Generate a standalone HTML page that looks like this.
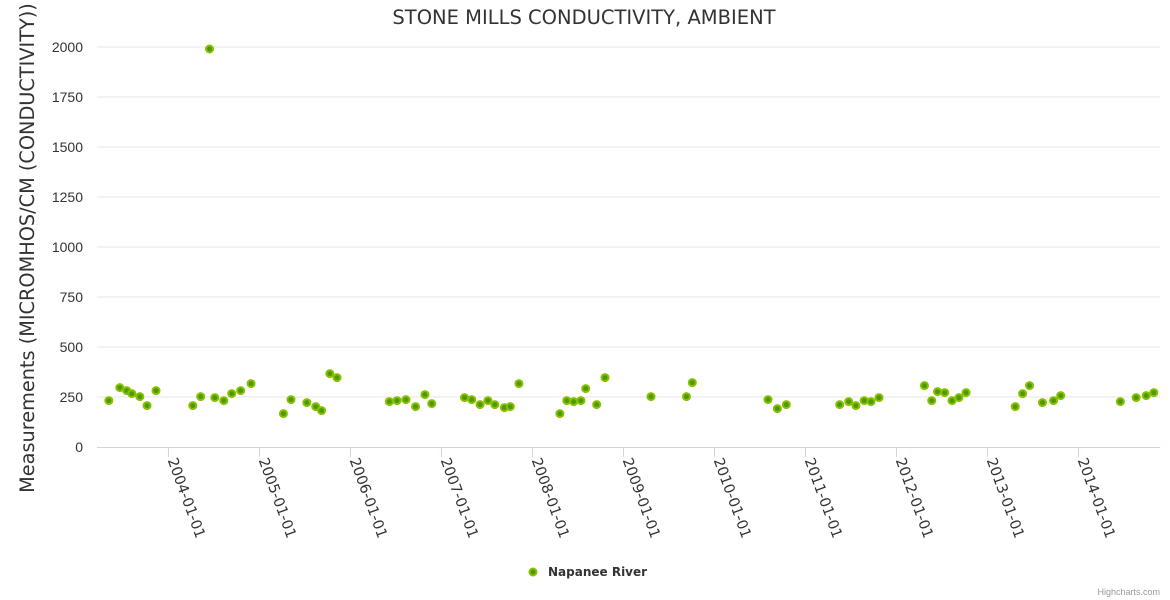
<!DOCTYPE html>
<html><head><meta charset="utf-8"><style>
body{margin:0;background:#fff;}
svg{display:block;font-family:"Liberation Sans",sans-serif;}
.dv{font-family:"DejaVu Sans",sans-serif;}
</style></head><body>
<svg id="chart" width="1170" height="600">
<rect width="1170" height="600" fill="#fff"/>
<text class="dv" x="584" y="24" text-anchor="middle" font-size="19.5" fill="#333">STONE MILLS CONDUCTIVITY, AMBIENT</text>
<text class="dv" transform="translate(34,248) rotate(-90)" text-anchor="middle" font-size="19.3" fill="#333">Measurements (MICROMHOS/CM (CONDUCTIVITY))</text>
<g id="grid"></g><g id="xaxis"></g><g id="pts"></g>
<g>
<circle cx="533" cy="572" r="3.5" fill="#4d9900" stroke="#88c000" stroke-width="2"/>
<text class="dv" x="548" y="576" font-size="12" font-weight="bold" fill="#333">Napanee River</text>
</g>
<text x="1160" y="595" text-anchor="end" font-size="9" fill="#999">Highcharts.com</text>
</svg>
<script>
const yTicks=[0,250,500,750,1000,1250,1500,1750,2000];
const xTickYears=[2004,2005,2006,2007,2008,2009,2010,2011,2012,2013,2014];
const dates=[2003.344,2003.465,2003.541,2003.597,2003.685,2003.764,2003.863,2004.267,2004.354,2004.451,2004.509,2004.608,2004.695,2004.793,2004.907,2005.263,2005.346,2005.520,2005.618,2005.682,2005.773,2005.852,2006.427,2006.511,2006.609,2006.715,2006.818,2006.893,2007.253,2007.332,2007.423,2007.510,2007.586,2007.691,2007.756,2007.851,2008.301,2008.377,2008.452,2008.532,2008.585,2008.705,2008.797,2009.302,2009.692,2009.756,2010.588,2010.691,2010.789,2011.376,2011.475,2011.554,2011.645,2011.720,2011.808,2012.307,2012.387,2012.451,2012.530,2012.610,2012.686,2012.764,2013.305,2013.386,2013.462,2013.604,2013.726,2013.805,2014.460,2014.634,2014.744,2014.828];
const values=[232,297,282,267,252,207,282,207,252,1990,247,232,267,282,317,167,237,222,202,182,367,347,227,232,237,202,262,217,247,237,212,232,212,197,202,317,167,232,227,232,292,212,347,252,252,322,237,192,212,212,227,207,232,227,247,307,232,277,272,232,247,272,202,267,307,222,232,257,227,247,257,272];
const NS='http://www.w3.org/2000/svg';
const X0=97,X1=1160,Y0=447,Y1=47;
const xs=t=>168.5+(t-2004)*91;
const ys=v=>Y0-(v/2000)*(Y0-Y1);
function mk(tag,attrs,parent){const e=document.createElementNS(NS,tag);for(const k in attrs)e.setAttribute(k,attrs[k]);parent.appendChild(e);return e;}
const grid=document.getElementById('grid');
yTicks.forEach(v=>{
  if(v>0){const l=mk('line',{x1:X0,x2:X1,y1:ys(v),y2:ys(v),stroke:'#e6e6e6','stroke-width':1},grid);
  
  }
  const t=mk('text',{x:83,y:ys(v)+5,'text-anchor':'end','font-size':14,fill:'#333'},grid);
  t.textContent=v;
  
  
});
const xa=document.getElementById('xaxis');
const ax=mk('line',{x1:X0,x2:X1,y1:Y0+0.5,y2:Y0+0.5,stroke:'#ccd6eb','stroke-width':1},xa);


xTickYears.forEach(yr=>{
  const x=xs(yr);
  const tk=mk('line',{x1:x,x2:x,y1:Y0,y2:Y0+10,stroke:'#ccd6eb','stroke-width':1},xa);
  
  
  const t=mk('text',{transform:`translate(${x-1},${Y0+13}) rotate(70)`,'font-size':14.5,fill:'#333','font-family':'DejaVu Sans, sans-serif'},xa);
  t.textContent=yr+'-01-01';
  
  
});
const pts=document.getElementById('pts');
dates.forEach((d,i)=>{
  const c=mk('circle',{cx:xs(d),cy:ys(values[i]),r:3.5,fill:'#4d9900',stroke:'#88c000','stroke-width':2},pts);
  
  
});
</script>
</body></html>
